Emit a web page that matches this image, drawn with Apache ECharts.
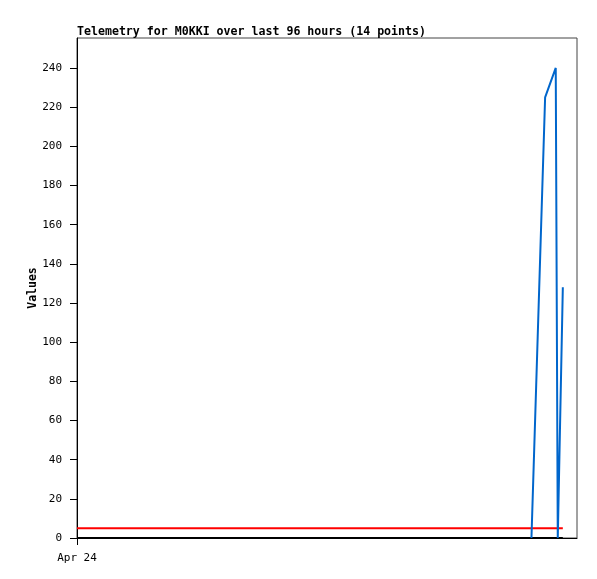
<!DOCTYPE html>
<html>
<head>
<meta charset="utf-8">
<script src="https://cdn.jsdelivr.net/npm/echarts@6/dist/echarts.min.js"></script>
<style>html,body{margin:0;padding:0;background:#fff;}#c{width:597px;height:579px;}</style>
</head>
<body>
<div id="c"></div>
<script>
// hours since start of window, values
const telemetryX = [89.8, 92.5, 94.6, 95.0, 96.0];
const telemetryY = [0, 225, 240, 0, 128];
const limitX = [0, 96];
const limitY = [5, 5];
const baseX = [0, 96];
const baseY = [0, 0];
const xTickLabel = 'Apr 24';
const titleText = 'Telemetry for M0KKI over last 96 hours (14 points)';
const yAxisName = 'Values';

const zip = (a, b) => a.map((v, i) => [v, b[i]]);
const mono = 'DejaVu Sans Mono';
const chart = echarts.init(document.getElementById('c'));
chart.setOption({
  animation: false,
  title: {
    text: titleText, left: 77, top: 26, padding: 0,
    textStyle: {fontFamily: mono, fontSize: 11.6, fontWeight: 'bold', color: '#000'}
  },
  grid: {left: 77, top: 38, right: 20, bottom: 41, show: true, borderColor: '#444', borderWidth: 1},
  xAxis: {
    type: 'value', min: 0, max: 98.8, interval: 98.8,
    axisLine: {lineStyle: {color: '#000', width: 1}},
    axisTick: {show: true, length: 7, lineStyle: {color: '#000'}},
    splitLine: {show: false},
    axisLabel: {
      fontFamily: mono, fontSize: 11, color: '#000', margin: 15,
      formatter: v => v === 0 ? xTickLabel : '', showMaxLabel: false
    }
  },
  yAxis: {
    type: 'value', min: 0, max: 255.3, interval: 20,
    name: yAxisName, nameLocation: 'middle', nameGap: 38, nameMoveOverlap: false,
    nameTextStyle: {fontFamily: mono, fontSize: 11.5, fontWeight: 'bold', color: '#000'},
    axisLine: {show: true, lineStyle: {color: '#000', width: 1}},
    axisTick: {show: true, length: 7, lineStyle: {color: '#000'}},
    splitLine: {show: false},
    axisLabel: {fontFamily: mono, fontSize: 11, color: '#000', margin: 15, showMaxLabel: false}
  },
  series: [
    {type: 'line', data: zip(baseX, baseY), symbol: 'none', lineStyle: {color: '#000', width: 2}, z: 3},
    {type: 'line', data: zip(limitX, limitY), symbol: 'none', lineStyle: {color: '#ff0000', width: 2}, z: 4},
    {type: 'line', data: zip(telemetryX, telemetryY), symbol: 'none', lineStyle: {color: '#0066cc', width: 2}, z: 5}
  ]
});
</script>
</body>
</html>
